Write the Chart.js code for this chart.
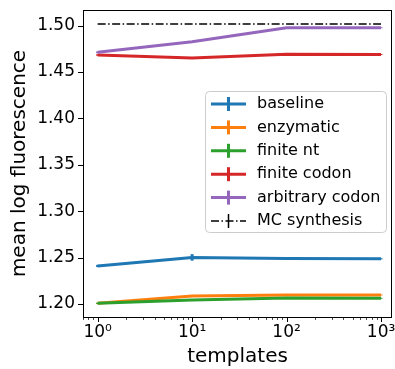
<!DOCTYPE html>
<html>
<head>
<meta charset="utf-8">
<script src="https://cdn.jsdelivr.net/npm/chart.js@4"></script>
<style>
  html, body { margin: 0; padding: 0; background: #fff; }
  #wrap { width: 395px; height: 369px; }
</style>
</head>
<body>
<div id="wrap"><canvas id="chart" width="395" height="369"></canvas></div>
<script>
// ===== Data: mean log fluorescence vs. number of templates =====
const templates = [1, 10, 100, 1000];

const seriesNames = ["baseline", "enzymatic", "finite nt", "finite codon", "arbitrary codon", "MC synthesis"];

const baseline       = [1.2410, 1.2502, 1.2491, 1.2487];
const enzymatic      = [1.2007, 1.2086, 1.2097, 1.2097];
const finiteNt       = [1.2007, 1.2043, 1.2064, 1.2062];
const finiteCodon    = [1.4682, 1.4650, 1.4690, 1.4688];
const arbitraryCodon = [1.4711, 1.4825, 1.4976, 1.4976];
const mcSynthesis    = [1.5015, 1.5015, 1.5015, 1.5015];

// error bar half-widths
const baselineErr       = [0.0012, 0.0035, 0.0008, 0.0006];
const enzymaticErr      = [0.0006, 0.0006, 0.0005, 0.0005];
const finiteNtErr       = [0.0006, 0.0005, 0.0005, 0.0005];
const finiteCodonErr    = [0.0008, 0.0006, 0.0005, 0.0005];
const arbitraryCodonErr = [0.0010, 0.0006, 0.0005, 0.0005];
const mcSynthesisErr    = [0, 0, 0, 0];

const xTickValues = [1, 10, 100, 1000];
const xTickLabels = ["10\u2070", "10\u00b9", "10\u00b2", "10\u00b3"];
const yTickValues = [1.20, 1.25, 1.30, 1.35, 1.40, 1.45, 1.50];

const colors = ["#1f77b4", "#ff7f0e", "#2ca02c", "#d62728", "#9467bd", "#000000"];
const FONT = "'DejaVu Sans', sans-serif";

Chart.defaults.color = "#000";
Chart.defaults.font.family = FONT;

const allValues = [baseline, enzymatic, finiteNt, finiteCodon, arbitraryCodon, mcSynthesis];
const allErrors = [baselineErr, enzymaticErr, finiteNtErr, finiteCodonErr, arbitraryCodonErr, mcSynthesisErr];

const datasets = allValues.map((vals, i) => ({
  label: seriesNames[i],
  data: templates.map((t, j) => ({ x: t, y: vals[j] })),
  errors: allErrors[i],
  borderColor: colors[i],
  backgroundColor: colors[i],
  borderWidth: i === 5 ? 1.5 : 3,
  borderDash: i === 5 ? [8, 2.5, 1.5, 2.5] : [],
  pointRadius: 0,
  tension: 0,
  fill: false,
  order: 5 - i   // later series drawn on top
}));

// ===== Error bars, drawn right after each line =====
const errorBars = {
  id: "errorBars",
  afterDatasetDraw(chart, args) {
    const ds = chart.data.datasets[args.index];
    if (!ds.errors) return;
    const { ctx, chartArea, scales: { x, y } } = chart;
    ctx.save();
    ctx.beginPath();
    ctx.rect(chartArea.left, chartArea.top, chartArea.right - chartArea.left, chartArea.bottom - chartArea.top);
    ctx.clip();
    ctx.strokeStyle = ds.borderColor;
    ctx.lineWidth = ds.borderWidth;
    ctx.setLineDash([]);
    ds.data.forEach((p, j) => {
      const e = ds.errors[j];
      if (!e) return;
      const px = x.getPixelForValue(p.x);
      ctx.beginPath();
      ctx.moveTo(px, y.getPixelForValue(p.y - e));
      ctx.lineTo(px, y.getPixelForValue(p.y + e));
      ctx.stroke();
    });
    ctx.restore();
  }
};

// ===== Frame and tick marks =====
const axesFrame = {
  id: "axesFrame",
  afterDatasetsDraw(chart) {
    const { ctx, chartArea: a, scales: { x, y } } = chart;
    ctx.save();
    ctx.strokeStyle = "#000";
    ctx.setLineDash([]);
    ctx.lineWidth = 1;
    ctx.strokeRect(a.left + 0.5, a.top + 0.5, a.right - a.left - 1, a.bottom - a.top);

    // y ticks
    yTickValues.forEach(v => {
      const py = Math.round(y.getPixelForValue(v)) + 0.5;
      ctx.beginPath();
      ctx.moveTo(a.left - 5, py);
      ctx.lineTo(a.left, py);
      ctx.stroke();
    });

    // x major ticks
    xTickValues.forEach(v => {
      const px = Math.round(x.getPixelForValue(v)) + 0.5;
      ctx.beginPath();
      ctx.moveTo(px, a.bottom);
      ctx.lineTo(px, a.bottom + 5);
      ctx.stroke();
    });

    // x minor ticks (2..9 per decade)
    ctx.lineWidth = 0.7;
    for (let d = -1; d <= 3; d++) {
      for (let k = 2; k <= 9; k++) {
        const v = k * Math.pow(10, d);
        if (v < x.min || v > x.max) continue;
        const px = Math.round(x.getPixelForValue(v)) + 0.5;
        ctx.beginPath();
        ctx.moveTo(px, a.bottom);
        ctx.lineTo(px, a.bottom + 3);
        ctx.stroke();
      }
    }
    ctx.restore();
  }
};

// ===== Legend box with error-bar handles =====
const errLegend = {
  id: "errLegend",
  afterDraw(chart) {
    const { ctx, chartArea: a } = chart;
    const boxL = 205, boxT = 91, boxR = a.right - 6, boxB = 232;
    const rowH = 23.4;
    ctx.save();
    ctx.beginPath();
    ctx.roundRect(boxL + 0.5, boxT + 0.5, boxR - boxL, boxB - boxT, 4);
    ctx.fillStyle = "rgba(255,255,255,0.8)";
    ctx.fill();
    ctx.strokeStyle = "#cccccc";
    ctx.lineWidth = 1;
    ctx.stroke();

    chart.data.datasets.forEach((ds, i) => {
      const cy = boxT + 13 + i * rowH;
      const hx0 = boxL + 6, hx1 = boxL + 41, hc = (hx0 + hx1) / 2;
      ctx.strokeStyle = ds.borderColor;
      ctx.lineWidth = ds.borderWidth;
      ctx.setLineDash(ds.borderDash);
      ctx.beginPath();
      ctx.moveTo(hx0, cy);
      ctx.lineTo(hx1, cy);
      ctx.stroke();
      ctx.setLineDash([]);
      ctx.beginPath();
      ctx.moveTo(hc, cy - 7);
      ctx.lineTo(hc, cy + 7);
      ctx.stroke();

      ctx.fillStyle = "#000";
      ctx.font = "16px " + FONT;
      ctx.textBaseline = "middle";
      ctx.textAlign = "left";
      ctx.fillText(ds.label, boxL + 52, cy);
    });
    ctx.restore();
  }
};

new Chart(document.getElementById("chart"), {
  type: "line",
  data: { datasets },
  options: {
    responsive: false,
    animation: false,
    layout: { padding: { top: 10, right: 3, left: 0, bottom: 0 } },
    plugins: {
      legend: { display: false },
      tooltip: { enabled: false }
    },
    scales: {
      x: {
        type: "logarithmic",
        min: 0.711,
        max: 1306,
        grid: { drawOnChartArea: false, drawTicks: false },
        border: { display: false },
        afterBuildTicks: s => { s.ticks = xTickValues.map(v => ({ value: v })); },
        afterFit: s => { s.height = 52; s.paddingLeft = 0; s.paddingRight = 0; },
        ticks: {
          autoSkip: false,
          maxRotation: 0,
          padding: 5,
          font: { size: 17 },
          callback: (v, i) => xTickLabels[i]
        },
        title: {
          display: true,
          text: "templates",
          font: { size: 20 },
          padding: { top: 0, bottom: 0 }
        }
      },
      y: {
        type: "linear",
        min: 1.186,
        max: 1.5167,
        grid: { drawOnChartArea: false, drawTicks: false },
        border: { display: false },
        afterBuildTicks: s => { s.ticks = yTickValues.map(v => ({ value: v })); },
        afterFit: s => { s.width = 83; s.paddingTop = 0; s.paddingBottom = 0; },
        ticks: {
          padding: 8,
          font: { size: 17 },
          callback: v => v.toFixed(2)
        },
        title: {
          display: true,
          text: "mean log fluorescence",
          font: { size: 20 },
          padding: { top: 8, bottom: 0 }
        }
      }
    }
  },
  plugins: [errorBars, axesFrame, errLegend]
});
</script>
</body>
</html>
